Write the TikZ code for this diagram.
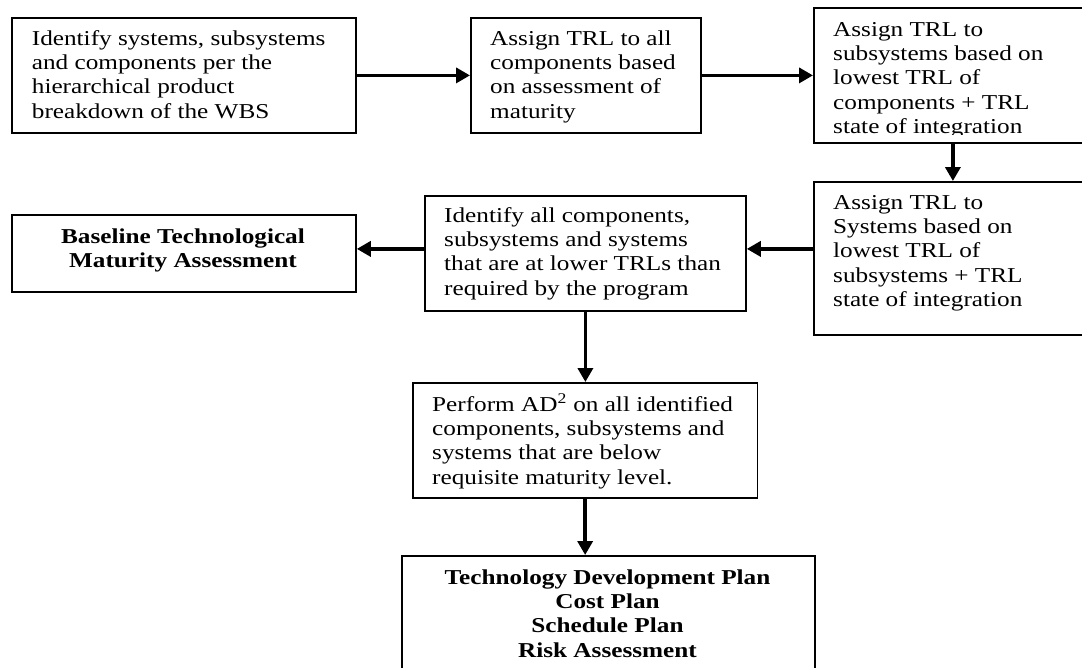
\documentclass[tikz,border=0pt]{standalone}
\usepackage{fontspec}
\setmainfont{Liberation Serif}[FakeStretch=1.19]
\usetikzlibrary{arrows.meta}
\begin{document}
\begin{tikzpicture}[x=1pt,y=-1pt,
  stepbox/.style={draw, line width=1.8pt, rectangle, inner sep=0pt, anchor=north west},
  txt/.style={anchor=base west, align=left, inner sep=0pt, font=\fontsize{21.2}{24.4}\selectfont},
  btxt/.style={anchor=base, align=center, inner sep=0pt, font=\fontsize{21.2}{24.4}\selectfont\bfseries},
  arr/.style={line width=3.5pt, -{Triangle[length=14pt,width=15pt]}}]
\useasboundingbox[fill=white] (0,0) rectangle (1082,667);

% boxes
\node[stepbox, minimum width=344pt, minimum height=115pt] (b1) at (11,17) {};
\node[stepbox, minimum width=230pt, minimum height=115pt] (b2) at (470,17) {};
\node[stepbox, minimum width=280pt, minimum height=135pt] (b3) at (813,7) {};
\node[stepbox, minimum width=280pt, minimum height=153pt] (b4) at (813,181) {};
\node[stepbox, minimum width=321pt, minimum height=115pt] (b5) at (424,195) {};
\node[stepbox, minimum width=344pt, minimum height=77pt] (b6) at (11,214) {};
\node[stepbox, minimum width=344.5pt, minimum height=115pt] (b7) at (412,382) {};
\node[stepbox, minimum width=413pt, minimum height=120pt] (b8) at (401,555) {};

% texts (anchored at the baseline of their last line)
\node[txt] (t1) at (31.7,118.2) {Identify systems, subsystems\\and components per the\\hierarchical product\\breakdown of the WBS};
\node[txt] (t2) at (490,118.2) {Assign TRL to all\\components based\\on assessment of\\maturity};
\begin{scope}
  \clip (813,7) rectangle (1082,134);
  \node[txt] (t3) at (833,133.6) {Assign TRL to\\subsystems based on\\lowest TRL of\\components + TRL\\state of integration};
\end{scope}
\node[txt] (t4) at (833,306.6) {Assign TRL to\\Systems based on\\lowest TRL of\\subsystems + TRL\\state of integration};
\node[txt] (t5) at (444,295.2) {Identify all components,\\subsystems and systems\\that are at lower TRLs than\\required by the program};
\node[btxt] (t6) at (183,267.4) {Baseline Technological\\Maturity Assessment};
\node[txt] (t7) at (432,484.2) {Perform AD\textsuperscript{2} on all identified\\components, subsystems and\\systems that are below\\requisite maturity level.};
\node[btxt] (t8) at (607.5,657.2) {Technology Development Plan\\Cost Plan\\Schedule Plan\\Risk Assessment};

% connectors
\draw[arr] (b1.east) -- (b2.west);
\draw[arr] (b2.east) -- (b3.west);
\draw[arr] ([xshift=-1pt]b3.south) -- ([xshift=-1pt]b4.north);
\draw[arr] ([yshift=9.5pt]b4.west) -- ([yshift=4.5pt]b5.east);
\draw[arr] ([yshift=4.5pt]b5.west) -- ([yshift=4.5pt]b6.east);
\draw[arr] (b5.south) -- (b5.south |- b7.north);
\draw[arr] (b7.south) -- (b7.south |- b8.north);
\end{tikzpicture}
\end{document}
